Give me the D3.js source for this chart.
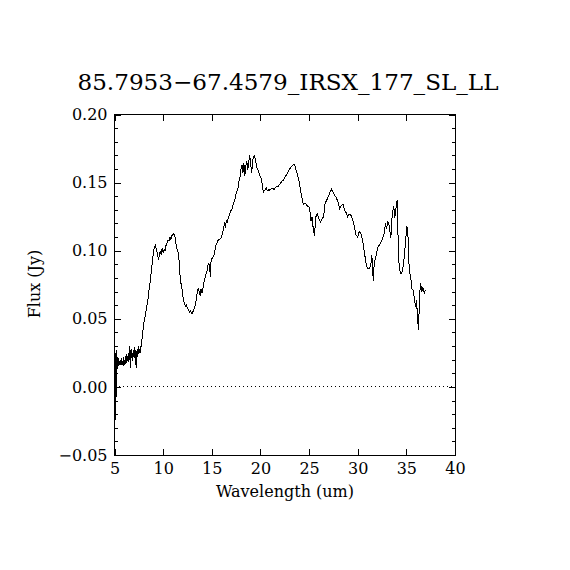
<!DOCTYPE html>
<html>
<head>
<meta charset="utf-8">
<script src="https://cdn.jsdelivr.net/npm/d3@7"></script>
<style>
  body { margin: 0; background: #fff; }
  text { font-family: "DejaVu Serif", serif; fill: #000; }
  .tick line { stroke: #000; stroke-width: 1; shape-rendering: crispEdges; }
  .domain { display: none; }
</style>
</head>
<body>
<div id="chart"></div>
<script>
// spectrum: wavelength (um) and flux (Jy)
var wave = [5.05, 5.1, 5.14, 5.18, 5.22, 5.27, 5.32, 5.37, 5.42, 5.47, 5.52, 5.57, 5.62, 5.67, 5.72, 5.77,
  5.82, 5.87, 5.92, 5.97, 6.02, 6.07, 6.12, 6.17, 6.22, 6.27, 6.32, 6.37, 6.42, 6.47, 6.52, 6.57,
  6.62, 6.67, 6.72, 6.77, 6.82, 6.87, 6.92, 6.97, 7.02, 7.07, 7.12, 7.17, 7.22, 7.27, 7.32, 7.37,
  7.42, 7.47, 7.52, 7.57, 7.62, 7.67, 7.72,
  7.8, 7.9, 8.0, 8.1, 8.2, 8.3, 8.4, 8.5, 8.6, 8.7, 8.8, 8.9, 9.0, 9.1, 9.2, 9.3, 9.4, 9.5, 9.6, 9.7,
  9.8, 9.9, 10.0, 10.1, 10.2, 10.3, 10.4, 10.5, 10.6, 10.7, 10.8, 10.9, 11.0, 11.1, 11.2, 11.3, 11.4,
  11.5, 11.6, 11.7, 11.8, 11.9, 12.0, 12.1, 12.2, 12.3, 12.4, 12.5, 12.6, 12.7, 12.8, 12.9, 13.0, 13.1,
  13.2, 13.3, 13.4, 13.5, 13.6, 13.7, 13.8, 13.9, 14.0, 14.1, 14.2, 14.3, 14.4, 14.5, 14.6, 14.7, 14.8,
  14.85, 14.9, 15.0, 15.1, 15.2, 15.3, 15.4, 15.5, 15.6, 15.7, 15.8, 15.9, 16.0, 16.1, 16.2, 16.3, 16.4,
  16.5, 16.6, 16.7, 16.8, 16.9, 17.0, 17.1, 17.2, 17.3, 17.4, 17.5, 17.6, 17.7, 17.8, 17.9, 18.0, 18.1,
  18.2, 18.3, 18.4, 18.5, 18.6, 18.7, 18.8, 18.9, 19.0, 19.1, 19.2, 19.3, 19.4, 19.5, 19.6, 19.7, 19.8,
  19.9, 20.0, 20.1, 20.2, 20.3, 20.4, 20.5, 20.6, 20.7, 20.8, 20.9, 21.0, 21.2, 21.4, 21.6, 21.8, 22.0,
  22.2, 22.4, 22.6, 22.8, 23.0, 23.2, 23.4, 23.5, 23.6, 23.8, 24.0, 24.2, 24.4, 24.6, 24.8, 25.0, 25.1,
  25.2, 25.3, 25.4, 25.55, 25.7, 25.85, 26.0, 26.15, 26.3, 26.5, 26.65, 26.8, 27.0, 27.15, 27.3, 27.45,
  27.6, 27.8, 28.0, 28.15, 28.3, 28.5, 28.65, 28.8, 28.95, 29.1, 29.3, 29.5, 29.65, 29.8, 30.0, 30.15,
  30.3, 30.5, 30.7, 30.9, 31.05, 31.2, 31.35, 31.45, 31.6, 31.7, 31.9, 32.1, 32.3, 32.5, 32.7, 32.85,
  32.95, 33.1, 33.25, 33.4, 33.55, 33.7, 33.8, 34.05, 34.2, 34.3, 34.45, 34.6, 34.75, 34.9, 35.05, 35.15,
  35.3, 35.45, 35.55, 35.7, 35.8, 35.95, 36.05, 36.15, 36.25, 36.35, 36.45, 36.6, 36.7, 36.85, 36.95];

var flux = [0.025, 0.012, -0.024, 0.018, 0.027, 0.013, 0.022, 0.015, 0.021, 0.017, 0.019, 0.016, 0.020, 0.018, 0.021, 0.016,
  0.019, 0.017, 0.022, 0.015, 0.020, 0.018, 0.023, 0.017, 0.020, 0.024, 0.019, 0.022, 0.018, 0.025, 0.020, 0.030,
  0.014, 0.027, 0.021, 0.028, 0.019, 0.025, 0.022, 0.027, 0.021, 0.029, 0.024, 0.027, 0.014, 0.026, 0.022, 0.028,
  0.024, 0.030, 0.026, 0.028, 0.025, 0.030, 0.029,
  0.033, 0.040, 0.046, 0.050, 0.054, 0.059, 0.062, 0.068, 0.074, 0.079, 0.086, 0.092, 0.099, 0.103, 0.104, 0.101, 0.098, 0.094, 0.096, 0.100,
  0.097, 0.102, 0.099, 0.101, 0.100, 0.104, 0.106, 0.108, 0.107, 0.110, 0.108, 0.111, 0.112, 0.1125, 0.111, 0.106, 0.102,
  0.100, 0.097, 0.085, 0.077, 0.074, 0.068, 0.063, 0.061, 0.059, 0.060, 0.058, 0.057, 0.055, 0.056, 0.054, 0.054, 0.056,
  0.058, 0.060, 0.064, 0.069, 0.072, 0.070, 0.067, 0.072, 0.069, 0.073, 0.077, 0.080, 0.083, 0.085, 0.089, 0.091, 0.086,
  0.081, 0.091, 0.094, 0.095, 0.096, 0.099, 0.104, 0.105, 0.107, 0.108, 0.108, 0.109, 0.110, 0.113, 0.116, 0.120, 0.118,
  0.122, 0.121, 0.124, 0.126, 0.128, 0.130, 0.131, 0.134, 0.136, 0.138, 0.142, 0.144, 0.146, 0.151, 0.154, 0.160, 0.163,
  0.157, 0.164, 0.155, 0.162, 0.166, 0.159, 0.165, 0.170, 0.164, 0.157, 0.166, 0.169, 0.170, 0.166, 0.162, 0.160, 0.158,
  0.156, 0.154, 0.153, 0.148, 0.143, 0.144, 0.145, 0.146, 0.144, 0.145, 0.144, 0.145, 0.146, 0.145, 0.147, 0.147, 0.149,
  0.151, 0.152, 0.155, 0.157, 0.160, 0.162, 0.163, 0.163, 0.161, 0.156, 0.150, 0.141, 0.134, 0.135, 0.133, 0.132, 0.128,
  0.122, 0.125, 0.118, 0.111, 0.125, 0.127, 0.124, 0.121, 0.123, 0.125, 0.135, 0.137, 0.140, 0.143, 0.145, 0.143,
  0.141, 0.139, 0.135, 0.131, 0.133, 0.134, 0.130, 0.128, 0.125, 0.127, 0.126, 0.122, 0.118, 0.112, 0.110, 0.114,
  0.113, 0.108, 0.098, 0.089, 0.087, 0.087, 0.090, 0.097, 0.078, 0.091, 0.097, 0.103, 0.105, 0.108, 0.112, 0.120,
  0.116, 0.121, 0.118, 0.109, 0.127, 0.133, 0.124, 0.137, 0.095, 0.086, 0.083, 0.085, 0.093, 0.105, 0.118, 0.114,
  0.085, 0.081, 0.072, 0.071, 0.066, 0.059, 0.064, 0.050, 0.042, 0.065, 0.076, 0.070, 0.073, 0.069, 0.071];

var xTicks = [5, 10, 15, 20, 25, 30, 35, 40];
var yTicks = [-0.05, 0.00, 0.05, 0.10, 0.15, 0.20];
var yMinor = [-0.04, -0.03, -0.02, -0.01, 0.01, 0.02, 0.03, 0.04, 0.06, 0.07, 0.08, 0.09,
  0.11, 0.12, 0.13, 0.14, 0.16, 0.17, 0.18, 0.19];

var title = "85.7953\u221267.4579_IRSX_177_SL_LL";
var xTitle = "Wavelength (um)";
var yTitle = "Flux (Jy)";

var margin = { left: 114.5, right: 115, top: 114.5, bottom: 115 },
    width = 570 - margin.left - margin.right,
    height = 570 - margin.top - margin.bottom;

var svg = d3.select("#chart").append("svg").attr("width", 570).attr("height", 570);
var g = svg.append("g").attr("transform", "translate(" + margin.left + "," + margin.top + ")");

var x = d3.scaleLinear().domain([5, 40]).range([0, width]);
var y = d3.scaleLinear().domain([-0.05, 0.20]).range([height, 0]);

// axes: ticks point inward, like the IDL plot
g.append("g").attr("transform", "translate(0," + height + ")")
  .call(d3.axisBottom(x).tickValues(xTicks).tickFormat(d3.format("d")).tickSizeInner(-6.5).tickSizeOuter(0).tickPadding(8))
  .selectAll("text").style("font-size", "16px");
g.append("g")
  .call(d3.axisTop(x).tickValues(xTicks).tickFormat("").tickSizeInner(-6.5).tickSizeOuter(0));

g.append("g")
  .call(d3.axisLeft(y).tickValues(yTicks).tickFormat(d3.format(".2f")).tickSizeInner(-6.5).tickSizeOuter(0).tickPadding(7))
  .selectAll("text").style("font-size", "16px");
g.append("g")
  .call(d3.axisLeft(y).tickValues(yMinor).tickFormat("").tickSizeInner(-3).tickSizeOuter(0));
g.append("g").attr("transform", "translate(" + width + ",0)")
  .call(d3.axisRight(y).tickValues(yTicks).tickFormat("").tickSizeInner(-6.5).tickSizeOuter(0));
g.append("g").attr("transform", "translate(" + width + ",0)")
  .call(d3.axisRight(y).tickValues(yMinor).tickFormat("").tickSizeInner(-3).tickSizeOuter(0));

g.selectAll(".tick text").attr("font-family", null).style("fill", "#000");

// frame
g.append("rect").attr("x", 0).attr("y", 0).attr("width", width).attr("height", height)
  .attr("fill", "none").attr("stroke", "#000").attr("stroke-width", 1).attr("shape-rendering", "crispEdges");

// zero line
g.append("line").attr("x1", x(5)).attr("x2", x(40)).attr("y1", y(0)).attr("y2", y(0))
  .attr("stroke", "#000").attr("stroke-width", 1).attr("stroke-dasharray", "1,3")
  .attr("shape-rendering", "crispEdges");

// spectrum
var pts = wave.map(function (d, i) { return [d, flux[i]]; });
g.append("path").datum(pts)
  .attr("fill", "none").attr("stroke", "#000").attr("stroke-width", 1)
  .attr("shape-rendering", "crispEdges")
  .attr("d", d3.line().x(function (d) { return x(d[0]); }).y(function (d) { return y(d[1]); }));

// titles
svg.append("text").attr("x", 288).attr("y", 90).attr("text-anchor", "middle")
  .style("font-size", "23px").attr("textLength", 421).attr("lengthAdjust", "spacingAndGlyphs").text(title);
svg.append("text").attr("x", 285).attr("y", 497).attr("text-anchor", "middle")
  .style("font-size", "16px").text(xTitle);
svg.append("text").attr("transform", "translate(40,284) rotate(-90)").attr("text-anchor", "middle")
  .style("font-size", "16px").text(yTitle);
</script>
</body>
</html>
